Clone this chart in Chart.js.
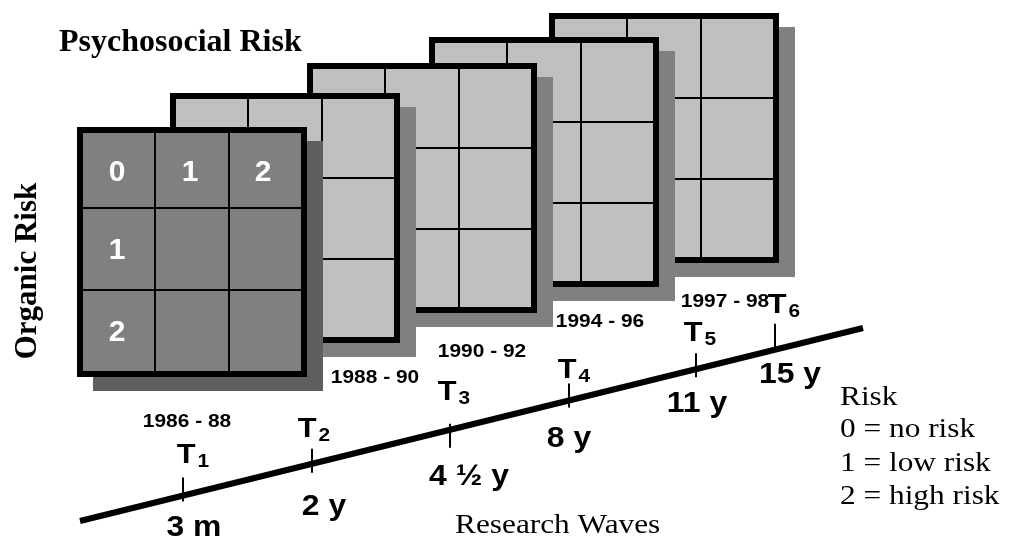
<!DOCTYPE html>
<html lang="en">
<head>
  <meta charset="UTF-8">
  <title>Research Waves</title>
  <script src="https://cdn.jsdelivr.net/npm/chart.js"></script>
  <style>
    html, body { margin: 0; padding: 0; background: #fff; }
    #wrap { width: 1010px; height: 538px; }
  </style>
</head>
<body>
  <div id="wrap"><canvas id="chart" width="1010" height="538"></canvas></div>

  <script>
    // Research waves (T1..T6)
    const waveNums = ['1', '2', '3', '4', '5', '6'];
    const waveYears = ['1986 - 88', '1988 - 90', '1990 - 92', '1994 - 96', '1997 - 98'];
    const waveAges = ['3 m', '2 y', '4 ½ y', '8 y', '11 y', '15 y'];
    // Risk levels for the 3x3 grids and the key
    const riskLevels = [0, 1, 2];
    const riskNames = ['no risk', 'low risk', 'high risk'];

    // Layout (in scale units, the scales span the whole canvas)
    const axisLine = { x0: 80, y0: 521, x1: 863, y1: 328 };
    const waveX = [183, 312, 450, 569, 696, 775];
    const tickShift = [-6, -3, 6, -5, -4, -14];
    const waveLabelPos = [[193, 463], [314, 437], [454, 400], [574, 378], [700, 341], [784, 313]];
    const yearPos = [[187, 427], [375, 383], [482, 357], [600, 327], [725, 307]];
    const agePos = [[194, 536], [324, 515], [469, 485], [569, 447], [697, 412], [790, 383]];
    const panelPos = [[77, 127], [170, 93], [307, 63], [429, 37], [549, 13]];
    const panelW = 230, panelH = 250;

    const SANS = '"Liberation Sans", Arial, sans-serif';
    const SERIF = '"Liberation Serif", "Times New Roman", serif';

    function lineY(x) {
      return axisLine.y0 + (x - axisLine.x0) * (axisLine.y1 - axisLine.y0) / (axisLine.x1 - axisLine.x0);
    }

    function txt(ctx, s, x, y, font, align, sx) {
      ctx.save();
      ctx.translate(x, y);
      ctx.scale(sx || 1, 1);
      ctx.font = font;
      ctx.textAlign = align || 'left';
      ctx.textBaseline = 'alphabetic';
      ctx.fillStyle = '#000';
      ctx.fillText(s, 0, 0);
      ctx.restore();
    }

    const diagram = {
      id: 'diagram',
      beforeDatasetsDraw(chart) {
        const ctx = chart.ctx;
        const X = v => chart.scales.x.getPixelForValue(v);
        const Y = v => chart.scales.y.getPixelForValue(v);
        // back panel first, front panel (T1) last
        for (let i = panelPos.length - 1; i >= 0; i--) {
          const px = X(panelPos[i][0]), py = Y(panelPos[i][1]);
          const w = X(panelPos[i][0] + panelW) - px, h = Y(panelPos[i][1] + panelH) - py;
          const front = i === 0;
          ctx.save();
          ctx.fillStyle = front ? '#5f5f5f' : '#808080';
          ctx.fillRect(px + 16, py + 14, w, h);
          ctx.fillStyle = front ? '#808080' : '#c0c0c0';
          ctx.fillRect(px, py, w, h);
          // grid cells
          ctx.strokeStyle = '#000';
          ctx.lineWidth = 2;
          const colX = [px + 6, px + 78, px + 152, px + w - 6];
          const rowY = [py + 6, py + (front ? 81 : 85), py + (front ? 163 : 166), py + h - 6];
          ctx.beginPath();
          for (let k = 1; k < riskLevels.length; k++) {
            ctx.moveTo(colX[k], py + 6); ctx.lineTo(colX[k], py + h - 6);
            ctx.moveTo(px + 6, rowY[k]); ctx.lineTo(px + w - 6, rowY[k]);
          }
          ctx.stroke();
          ctx.lineWidth = 6;
          ctx.strokeRect(px + 3, py + 3, w - 6, h - 6);
          if (front) {
            ctx.fillStyle = '#fff';
            ctx.font = 'bold 30px ' + SANS;
            ctx.textAlign = 'center';
            ctx.textBaseline = 'middle';
            riskLevels.forEach((r, k) => {
              const cx = (colX[k] + colX[k + 1]) / 2 - 2;
              ctx.fillText(String(r), cx, (rowY[0] + rowY[1]) / 2 + 2);
              if (k > 0) {
                ctx.fillText(String(r), (colX[0] + colX[1]) / 2 - 2, (rowY[k] + rowY[k + 1]) / 2 + 2);
              }
            });
          }
          ctx.restore();
        }
      },
      afterDatasetsDraw(chart) {
        const ctx = chart.ctx;
        const X = v => chart.scales.x.getPixelForValue(v);
        const Y = v => chart.scales.y.getPixelForValue(v);

        // T labels with subscripts
        waveNums.forEach((n, i) => {
          const fT = 'bold 28px ' + SANS, fS = 'bold 19px ' + SANS;
          ctx.font = fT;
          const wT = ctx.measureText('T').width * 1.1;
          ctx.font = fS;
          const wS = ctx.measureText(n).width * 1.1;
          const x0 = X(waveLabelPos[i][0]) - (wT + wS + 2) / 2;
          const yb = Y(waveLabelPos[i][1]);
          txt(ctx, 'T', x0, yb, fT, 'left', 1.1);
          txt(ctx, n, x0 + wT + 2, yb + 4, fS, 'left', 1.1);
        });

        waveYears.forEach((s, i) => {
          txt(ctx, s, X(yearPos[i][0]), Y(yearPos[i][1]), 'bold 19px ' + SANS, 'center', 1.1);
        });
        waveAges.forEach((s, i) => {
          txt(ctx, s, X(agePos[i][0]), Y(agePos[i][1]), 'bold 29px ' + SANS, 'center', 1.1);
        });

        txt(ctx, 'Psychosocial Risk', X(59), Y(51), 'bold 32px ' + SERIF, 'left', 1);
        ctx.save();
        ctx.translate(X(36), Y(271));
        ctx.rotate(-Math.PI / 2);
        ctx.font = 'bold 31px ' + SERIF;
        ctx.textAlign = 'center';
        ctx.fillStyle = '#000';
        ctx.fillText('Organic Risk', 0, 0);
        ctx.restore();

        txt(ctx, 'Research Waves', X(455), Y(533), '27px ' + SERIF, 'left', 1.16);
        txt(ctx, 'Risk', X(840), Y(405), '27px ' + SERIF, 'left', 1.16);
        riskLevels.forEach((r, k) => {
          txt(ctx, r + ' = ' + riskNames[k], X(840), Y(437 + k * 33.5), '27px ' + SERIF, 'left', 1.16);
        });
      }
    };

    new Chart(document.getElementById('chart').getContext('2d'), {
      type: 'scatter',
      data: {
        datasets: [
          {
            type: 'line',
            data: [{ x: axisLine.x0, y: axisLine.y0 }, { x: axisLine.x1, y: axisLine.y1 }],
            borderColor: '#000',
            borderWidth: 6,
            borderCapStyle: 'butt',
            pointRadius: 0
          },
          {
            data: waveX.map((x, i) => ({ x: x, y: lineY(x) + tickShift[i] })),
            pointStyle: 'line',
            rotation: 90,
            pointRadius: 12,
            borderColor: '#000',
            backgroundColor: '#000',
            borderWidth: 2
          }
        ]
      },
      options: {
        responsive: false,
        animation: false,
        events: [],
        layout: { padding: 0, autoPadding: false },
        plugins: { legend: { display: false }, tooltip: { enabled: false } },
        scales: {
          x: { type: 'linear', min: 0, max: 1010, display: false },
          y: { type: 'linear', min: 0, max: 538, reverse: true, display: false }
        }
      },
      plugins: [diagram]
    });
  </script>
</body>
</html>
